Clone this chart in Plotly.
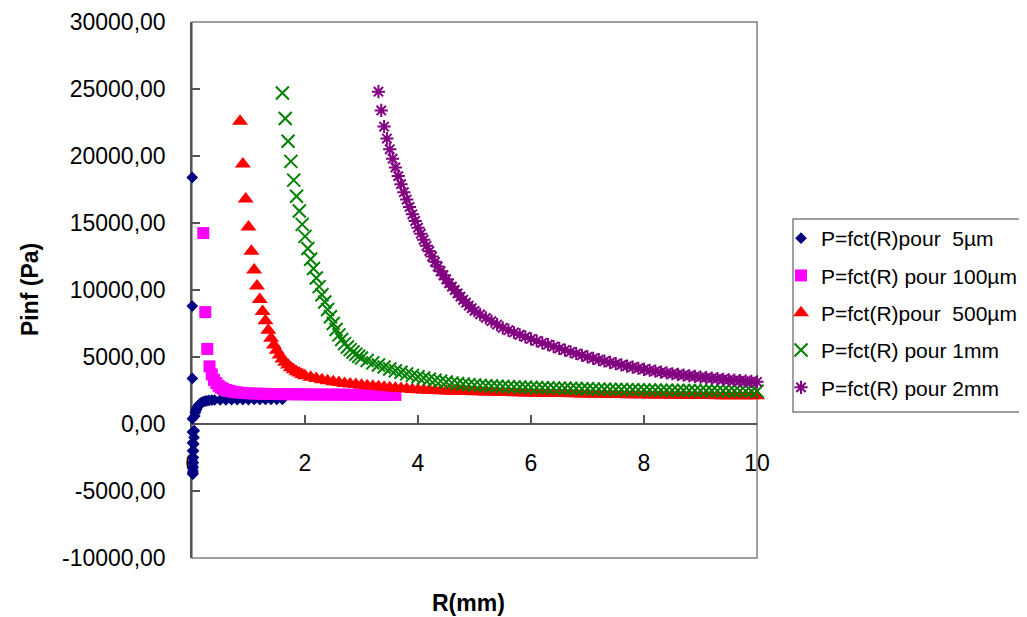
import plotly.graph_objects as go

# ---------------- data ----------------
# P=fct(R)pour 5µm  (navy diamonds)
n_x = [0.004, 0.005, 0.006, 0.007, 0.008, 0.009, 0.010, 0.011, 0.012, 0.013, 0.014, 0.015, 0.016,
       0.018, 0.020, 0.022, 0.025, 0.028, 0.032, 0.036, 0.040,
       0.05, 0.06, 0.07, 0.08, 0.09, 0.10, 0.12, 0.14, 0.16, 0.18, 0.20, 0.23, 0.26, 0.30, 0.35, 0.40,
       0.5, 0.6, 0.7, 0.8, 0.9, 1.0, 1.1, 1.2, 1.3, 1.4, 1.5, 1.6]
n_y = [18400, 8800, 3400, 400, -600, -1400, -2000, -2500, -2900, -3300, -3600, -3750, -3700,
       -3500, -3200, -2900, -2500, -2000, -1500, -1000, -500,
       600, 850, 1000, 1120, 1220, 1300, 1420, 1500, 1570, 1620, 1660, 1700, 1730, 1760, 1780, 1790,
       1800, 1805, 1810, 1815, 1820, 1825, 1830, 1832, 1835, 1838, 1840, 1842]

# P=fct(R) pour 100µm  (magenta squares)
m_x = [0.20, 0.235, 0.27, 0.31, 0.35, 0.39, 0.43, 0.47, 0.51, 0.55, 0.60, 0.65, 0.70, 0.75, 0.80, 0.90,
       1.0, 1.1, 1.2, 1.3, 1.4, 1.5, 1.6, 1.7, 1.8, 1.9, 2.0, 2.1, 2.2, 2.3, 2.4, 2.5, 2.6, 2.7, 2.8, 2.9,
       3.0, 3.1, 3.2, 3.3, 3.4, 3.5, 3.6]
m_y = [14250, 8350, 5600, 4300, 3700, 3300, 3050, 2850, 2720, 2620, 2540, 2480, 2430, 2390, 2360, 2320,
       2290, 2270, 2260, 2250, 2240, 2235, 2230, 2225, 2220, 2215, 2210, 2205, 2200, 2200, 2195, 2195,
       2190, 2190, 2185, 2185, 2180, 2180, 2180, 2175, 2175, 2175, 2170]

# P=fct(R)pour 500µm  (red triangles)
r_x = [0.85, 0.90, 0.95, 1.00, 1.05, 1.10, 1.15, 1.20, 1.25, 1.30, 1.35, 1.40, 1.45, 1.50, 1.55, 1.60,
       1.65, 1.70, 1.75, 1.80, 1.85, 1.90, 1.95, 2.00,
       2.1, 2.2, 2.3, 2.4, 2.5, 2.6, 2.7, 2.8, 2.9, 3.0, 3.1, 3.2, 3.3, 3.4, 3.5, 3.6, 3.7, 3.8, 3.9, 4.0,
       4.1, 4.2, 4.3, 4.4, 4.5, 4.6, 4.7, 4.8, 4.9, 5.0, 5.1, 5.2, 5.3, 5.4, 5.5, 5.6, 5.7, 5.8, 5.9, 6.0,
       6.1, 6.2, 6.3, 6.4, 6.5, 6.6, 6.7, 6.8, 6.9, 7.0, 7.1, 7.2, 7.3, 7.4, 7.5, 7.6, 7.7, 7.8, 7.9, 8.0,
       8.1, 8.2, 8.3, 8.4, 8.5, 8.6, 8.7, 8.8, 8.9, 9.0, 9.1, 9.2, 9.3, 9.4, 9.5, 9.6, 9.7, 9.8, 9.9, 10.0]
r_y = [22600, 19400, 16800, 14700, 12900, 11500, 10300, 9300, 8400, 7700, 7000, 6400, 5900, 5500, 5150, 4850,
       4600, 4400, 4200, 4050, 3900, 3800, 3700, 3600,
       3490, 3390, 3300, 3220, 3150, 3090, 3030, 2980, 2940, 2900, 2860, 2820, 2780, 2740, 2700, 2670, 2640,
       2610, 2580, 2560, 2540, 2520, 2500, 2480, 2460, 2450, 2440, 2430, 2420, 2410, 2400, 2390, 2380, 2370,
       2360, 2350, 2340, 2330, 2320, 2310, 2300, 2295, 2290, 2285, 2280, 2270, 2260, 2250, 2240, 2230, 2220,
       2215, 2210, 2205, 2200, 2195, 2190, 2185, 2180, 2175, 2170, 2165, 2160, 2155, 2150, 2145, 2140, 2135,
       2130, 2125, 2120, 2118, 2115, 2112, 2110, 2108, 2105, 2103, 2100, 2100]

# P=fct(R) pour 1mm  (green crosses)
g_x = [1.60, 1.65, 1.70, 1.75, 1.80, 1.85, 1.90, 1.95, 2.00, 2.05, 2.10, 2.15, 2.20, 2.25, 2.30, 2.35,
       2.40, 2.45, 2.50, 2.55, 2.60, 2.65, 2.70, 2.75, 2.80, 2.85, 2.90, 2.95, 3.00,
       3.1, 3.2, 3.3, 3.4, 3.5, 3.6, 3.7, 3.8, 3.9, 4.0, 4.1, 4.2, 4.3, 4.4, 4.5, 4.6, 4.7, 4.8, 4.9, 5.0,
       5.1, 5.2, 5.3, 5.4, 5.5, 5.6, 5.7, 5.8, 5.9, 6.0, 6.1, 6.2, 6.3, 6.4, 6.5, 6.6, 6.7, 6.8, 6.9, 7.0,
       7.1, 7.2, 7.3, 7.4, 7.5, 7.6, 7.7, 7.8, 7.9, 8.0, 8.1, 8.2, 8.3, 8.4, 8.5, 8.6, 8.7, 8.8, 8.9, 9.0,
       9.1, 9.2, 9.3, 9.4, 9.5, 9.6, 9.7, 9.8, 9.9, 10.0]
g_y = [24700, 22800, 21100, 19600, 18200, 17000, 15900, 14900, 14000, 13100, 12300, 11600, 10900, 10250,
       9650, 9100, 8550, 8000, 7500, 7050, 6650, 6300, 6000, 5750, 5550, 5370, 5200, 5060, 4930,
       4740, 4560, 4400, 4250, 4110, 3980, 3860, 3740, 3630, 3520, 3430, 3350, 3270, 3200, 3130, 3070, 3020,
       2980, 2940, 2910, 2880, 2860, 2840, 2820, 2800, 2785, 2770, 2755, 2740, 2725, 2715, 2705, 2695, 2685,
       2675, 2665, 2655, 2645, 2635, 2625, 2615, 2605, 2595, 2585, 2578, 2570, 2563, 2556, 2549, 2542, 2536,
       2530, 2524, 2518, 2512, 2506, 2500, 2495, 2490, 2485, 2480, 2476, 2472, 2468, 2464, 2460, 2456, 2452,
       2448, 2445]

# P=fct(R) pour 2mm  (purple stars)
p_x = [3.30, 3.35, 3.40, 3.45, 3.50, 3.55, 3.60, 3.65, 3.70, 3.75, 3.80, 3.85, 3.90, 3.95, 4.00, 4.05,
       4.10, 4.15, 4.20, 4.25, 4.30, 4.35, 4.40, 4.45, 4.50, 4.55, 4.60, 4.65, 4.70, 4.75, 4.80, 4.85,
       4.90, 4.95, 5.00,
       5.1, 5.2, 5.3, 5.4, 5.5, 5.6, 5.7, 5.8, 5.9, 6.0, 6.1, 6.2, 6.3, 6.4, 6.5, 6.6, 6.7, 6.8, 6.9, 7.0,
       7.1, 7.2, 7.3, 7.4, 7.5, 7.6, 7.7, 7.8, 7.9, 8.0, 8.1, 8.2, 8.3, 8.4, 8.5, 8.6, 8.7, 8.8, 8.9, 9.0,
       9.1, 9.2, 9.3, 9.4, 9.5, 9.6, 9.7, 9.8, 9.9, 10.0]
p_y = [24800, 23400, 22200, 21300, 20500, 19800, 19150, 18500, 17900, 17300, 16750, 16200, 15650, 15150,
       14650, 14200, 13750, 13300, 12900, 12500, 12100, 11750, 11400, 11100, 10800, 10500, 10250, 10000,
       9750, 9500, 9270, 9050, 8840, 8640, 8450,
       8180, 7920, 7670, 7420, 7180, 7000, 6830, 6660, 6500, 6350, 6200, 6060, 5920, 5780, 5650, 5520, 5390,
       5260, 5130, 5010, 4900, 4800, 4700, 4600, 4500, 4410, 4320, 4240, 4160, 4080, 4010, 3940, 3870, 3810,
       3750, 3700, 3650, 3600, 3550, 3500, 3460, 3420, 3380, 3340, 3300, 3270, 3240, 3210, 3180, 3150]

series_names = ["P=fct(R)pour\u00a0 5µm", "P=fct(R) pour 100µm", "P=fct(R)pour\u00a0 500µm",
                "P=fct(R) pour 1mm", "P=fct(R) pour 2mm"]

x_tick_vals = [0, 2, 4, 6, 8, 10]
x_tick_text = ["0", "2", "4", "6", "8", "10"]
y_tick_vals = [-10000, -5000, 0, 5000, 10000, 15000, 20000, 25000, 30000]
y_tick_text = ["-10000,00", "-5000,00", "0,00", "5000,00", "10000,00", "15000,00",
               "20000,00", "25000,00", "30000,00"]

# ---------------- figure ----------------
FONT = "Arial, Liberation Sans, sans-serif"
fig = go.Figure()

styles = [
    dict(symbol="diamond", size=9, color="#000080", line=dict(width=0)),
    dict(symbol="square", size=12, color="#FF00FF", line=dict(width=0)),
    dict(symbol="triangle-up", size=14, color="#FF0000", line=dict(width=0)),
    dict(symbol="x-thin-open", size=13, color="#008000", line=dict(width=2, color="#008000")),
    dict(symbol="asterisk-open", size=11, color="#800080", line=dict(width=2, color="#800080")),
]
data = [(n_x, n_y), (m_x, m_y), (r_x, r_y), (g_x, g_y), (p_x, p_y)]
for i, ((xs, ys), name, st) in enumerate(zip(data, series_names, styles)):
    fig.add_trace(go.Scatter(x=xs, y=ys, mode="markers", name=name, marker=st,
                             cliponaxis=False, legendgroup=f"g{i}"))

# page body has an 8px margin -> compensate
W, H = 1019, 609
L, T, PW, PH = 184, 14, 565, 536

def px(xpix):
    return (xpix - 192) / PW

def py(ypix):
    return (558 - ypix) / PH

fig.update_layout(
    width=W, height=H,
    margin=dict(l=L, r=W - L - PW, t=T, b=H - T - PH, autoexpand=False),
    paper_bgcolor="white", plot_bgcolor="white",
    font=dict(family=FONT, color="black"),
    showlegend=True,
    legend=dict(x=px(781), y=py(218), xanchor="left", yanchor="top",
                bgcolor="rgba(0,0,0,0)", borderwidth=0,
                font=dict(family=FONT, size=21, color="black"),
                traceorder="grouped", tracegroupgap=7),
    xaxis=dict(range=[0, 10], anchor="free", position=0.25,
               tickvals=x_tick_vals, ticktext=x_tick_text,
               ticks="inside", ticklen=8, tickcolor="#555555", tickwidth=1.5,
               showline=True, linecolor="#555555", linewidth=1.5,
               showgrid=False, zeroline=False, layer="below traces",
               tickfont=dict(family=FONT, size=23, color="black"),
               ticklabelstandoff=19),
    yaxis=dict(range=[-10000, 30000],
               tickvals=y_tick_vals, ticktext=y_tick_text,
               ticks="inside", ticklen=8, tickcolor="#555555", tickwidth=1.5,
               showline=True, linecolor="#555555", linewidth=1.5,
               showgrid=False, zeroline=False, layer="below traces",
               tickfont=dict(family=FONT, size=23, color="black"),
               ticklabelstandoff=20),
    shapes=[
        dict(type="rect", xref="paper", yref="paper", x0=0, x1=1, y0=0, y1=1,
             line=dict(color="#808080", width=1.5), layer="below"),
        dict(type="rect", xref="paper", yref="paper", x0=px(793), x1=px(1024), y0=py(412), y1=py(219),
             line=dict(color="#808080", width=1.5), layer="below"),
    ],
    annotations=[
        dict(text="<b>Pinf (Pa)</b>", xref="paper", yref="paper", x=px(30), y=py(290),
             xanchor="center", yanchor="middle",
             textangle=-90, showarrow=False, font=dict(family=FONT, size=23, color="black")),
        dict(text="<b>R(mm)</b>", xref="paper", yref="paper", x=px(468), y=py(603),
             xanchor="center", yanchor="middle",
             showarrow=False, font=dict(family=FONT, size=23, color="black")),
    ],
)

fig.write_html("out.html")
